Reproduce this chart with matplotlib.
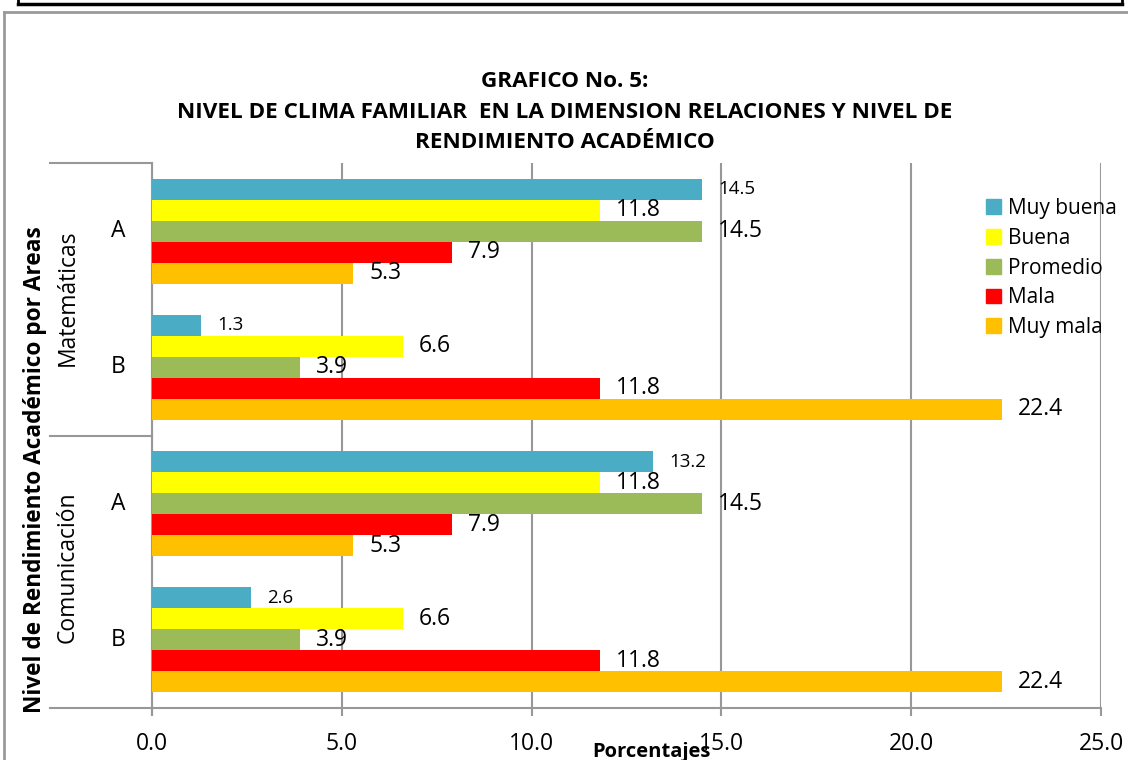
import numpy as np
import matplotlib
matplotlib.use('Agg')
import matplotlib.pyplot as plt
from matplotlib.lines import Line2D
from matplotlib.patches import Patch

plt.rcParams['font.family'] = ['Open Sans', 'DejaVu Sans']

# categories listed bottom -> top (as drawn)
areas = ['Comunicación', 'Matemáticas']
levels = ['B', 'A']
series = ['Muy buena', 'Buena', 'Promedio', 'Mala', 'Muy mala']
colors = ['#4BACC6', '#FFFF00', '#9BBB59', '#FF0000', '#FFC000']

# values per category: Com B, Com A, Mat B, Mat A
muy_buena = [2.6, 13.2, 1.3, 14.5]
buena = [6.6, 11.8, 6.6, 11.8]
promedio = [3.9, 14.5, 3.9, 14.5]
mala = [11.8, 7.9, 11.8, 7.9]
muy_mala = [22.4, 5.3, 22.4, 5.3]
values = [muy_buena, buena, promedio, mala, muy_mala]

xticks = [0, 5, 10, 15, 20, 25]

fig = plt.figure(figsize=(11.28, 7.6), dpi=100)
ax = fig.add_axes([152 / 1128, 1 - 708 / 760, (1101 - 152) / 1128, (708 - 163) / 760])

grid_c = '#989898'
h = 0.154
y = np.arange(4)
for i, (name, vals, c) in enumerate(zip(series, values, colors)):
    pos = y + (2 - i) * h
    ax.barh(pos, vals, height=h, color=c, label=name, zorder=3)
    fs = 13.5 if i == 0 else 16.5
    for p, v in zip(pos, vals):
        ax.annotate('{:.1f}'.format(v), (v, p), xytext=(11.5, 0), textcoords='offset points',
                    va='center', ha='left', fontsize=fs, zorder=4)

ax.set_xlim(0, 25)
ax.set_ylim(-0.5, 3.5)
ax.set_xticks(xticks)
ax.set_xticklabels(['{:.1f}'.format(t) for t in xticks], fontsize=16.5)
ax.tick_params(axis='x', length=6, color=grid_c, width=1.5, pad=11)
ax.set_yticks([])
ax.grid(axis='x', color=grid_c, lw=1.5, zorder=0)
ax.set_axisbelow(True)
for s in ['top', 'right']:
    ax.spines[s].set_visible(False)
for s in ['left', 'bottom']:
    ax.spines[s].set_color(grid_c)
    ax.spines[s].set_linewidth(1.5)

# multi-level category axis labels
trans = ax.get_yaxis_transform()
for k, lv in enumerate(levels * 2):
    ax.text((118 - 152) / 949, k, lv, transform=trans, fontsize=16.5, ha='center', va='center')
for j, area in enumerate(areas):
    fig.text(68 / 1128, 1 - (567 - j * 269) / 760, area, rotation=90, fontsize=16.5,
             ha='center', va='center')
for yy in [-0.5, 1.5, 3.5]:
    ax.add_line(Line2D([-102 / 949, 0], [yy, yy], transform=trans, color=grid_c, lw=1.5, clip_on=False))
ax.add_line(Line2D([0, 0], [-0.5, -0.5 - 7 / 136.25], color=grid_c, lw=1.5, clip_on=False))

ax.set_xlabel('Porcentajes', fontsize=14.5, fontweight='bold', va='center')
ax.xaxis.set_label_coords((651 - 152) / 949, -(752 - 708) / 545)
fig.text(35 / 1128, 1 - 470 / 760, 'Nivel de Rendimiento Académico por Areas', rotation=90,
         fontsize=16.3, fontweight='bold', ha='center', va='center')

fig.text(565 / 1128, 1 - 112 / 760,
         'GRAFICO No. 5:\nNIVEL DE CLIMA FAMILIAR  EN LA DIMENSION RELACIONES Y NIVEL DE\nRENDIMIENTO ACADÉMICO',
         fontsize=16.2, fontweight='bold', ha='center', va='center', linespacing=1.6)

handles = [Patch(color=c) for c in colors]
ax.legend(handles, series, loc='upper left', bbox_to_anchor=((986 - 152) / 949, 1 - (198 - 163) / 545),
          frameon=False, fontsize=15, handlelength=0.7, handleheight=0.7, handletextpad=0.35,
          labelspacing=0.42, borderaxespad=0, borderpad=0)

# chart frame and top box from the page
fig.add_artist(Line2D([4 / 1128, 4 / 1128], [0, 1 - 12 / 760], color='#9a9a9a', lw=2))
fig.add_artist(Line2D([4 / 1128, 1], [1 - 12 / 760, 1 - 12 / 760], color='#9a9a9a', lw=2))
fig.add_artist(Line2D([18 / 1128, 1122 / 1128], [1 - 4 / 760, 1 - 4 / 760], color='black', lw=2.5))
fig.add_artist(Line2D([18 / 1128, 18 / 1128], [1 - 4 / 760, 1], color='black', lw=2))
fig.add_artist(Line2D([1122 / 1128, 1122 / 1128], [1 - 4 / 760, 1], color='black', lw=2))

fig.savefig('out.png', dpi=100)
